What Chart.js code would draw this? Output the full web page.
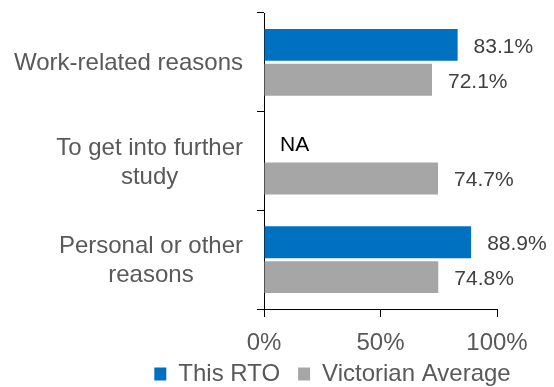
<!DOCTYPE html>
<html>
<head>
<meta charset="utf-8">
<script src="https://cdn.jsdelivr.net/npm/chart.js@4"></script>
<style>
  body { margin: 0; background: #fff; }
  #wrap { width: 554px; height: 387px; }
</style>
</head>
<body>
<div id="wrap"><canvas id="reasonsChart" width="554" height="387"></canvas></div>
<script>
// --- data ---
const categories = [
    'Work-related reasons',
    ['To get into further', 'study'],
    ['Personal or other', 'reasons']
];
const thisRto = [83.1, null, 88.9];
const victorianAvg = [72.1, 74.7, 74.8];
const xTicks = [0, 50, 100];

const FONT = '"Liberation Sans", Arial, sans-serif';
Chart.defaults.font.family = FONT;
Chart.defaults.color = '#595959';

// value labels at the end of each bar, "NA" where there is no value
const barLabels = {
    id: 'barLabels',
    afterDatasetsDraw(chart) {
        const ctx = chart.ctx;
        const xScale = chart.scales.x;
        ctx.save();
        ctx.font = '21px ' + FONT;
        ctx.textAlign = 'left';
        ctx.textBaseline = 'middle';
        chart.data.datasets.forEach((ds, di) => {
            const meta = chart.getDatasetMeta(di);
            meta.data.forEach((bar, i) => {
                const v = ds.data[i];
                const x = xScale.getPixelForValue(v == null ? 0 : v) + 16;
                if (v == null) {
                    ctx.fillStyle = '#000';
                    ctx.fillText('NA', x, bar.y + 1.5);
                } else {
                    ctx.fillStyle = '#404040';
                    ctx.fillText(v.toFixed(1) + '%', x, bar.y + 2);
                }
            });
        });
        ctx.restore();
    }
};

// category labels: each block right-aligned to the axis, its lines centred
const categoryLabels = {
    id: 'categoryLabels',
    afterDraw(chart) {
        const ctx = chart.ctx;
        const yScale = chart.scales.y;
        const right = yScale.right - 7 - 14;
        const lineH = 29;
        ctx.save();
        ctx.font = '24px ' + FONT;
        ctx.fillStyle = '#595959';
        ctx.textAlign = 'center';
        ctx.textBaseline = 'middle';
        chart.data.labels.forEach((lab, i) => {
            const lines = [].concat(lab);
            const w = Math.max(...lines.map(l => ctx.measureText(l).width));
            const cx = right - w / 2;
            const y0 = yScale.getPixelForTick(i) - (lines.length - 1) * lineH / 2 + 1.5;
            lines.forEach((l, k) => ctx.fillText(l, cx, y0 + k * lineH));
        });
        ctx.restore();
    }
};

// legend: right of the canvas centre, its box grown upward under the x labels
const legendShift = {
    id: 'legendShift',
    afterLayout(chart) {
        const lg = chart.legend;
        lg.left += 84;
        lg.right += 84;
        lg.top -= 17;
        lg.height = lg.bottom - lg.top;
    }
};

new Chart(document.getElementById('reasonsChart'), {
    type: 'bar',
    data: {
        labels: categories,
        datasets: [{
            label: 'This RTO',
            data: thisRto,
            backgroundColor: '#0070C0',
            categoryPercentage: 0.707,
            barPercentage: 0.914
        }, {
            label: 'Victorian Average',
            data: victorianAvg,
            backgroundColor: '#A6A6A6',
            categoryPercentage: 0.707,
            barPercentage: 0.914
        }]
    },
    options: {
        indexAxis: 'y',
        responsive: false,
        animation: false,
        layout: { padding: { top: 13, right: 57, left: 0, bottom: 0 } },
        scales: {
            x: {
                min: 0,
                max: 100,
                afterBuildTicks(scale) {
                    scale.ticks = xTicks.map(v => ({ value: v }));
                },
                afterFit(scale) { scale.height = 52; },
                grid: { drawOnChartArea: false, tickLength: 8, color: '#000' },
                border: { color: '#000' },
                ticks: { padding: 12, font: { size: 24 }, callback: v => v + '%' }
            },
            y: {
                afterFit(scale) {
                    scale.width = 264;
                    scale.paddingTop = 0;
                    scale.paddingBottom = 0;
                },
                grid: { drawOnChartArea: false, tickLength: 7, color: '#000', offset: true },
                border: { color: '#000' },
                ticks: { display: false }
            }
        },
        plugins: {
            legend: {
                position: 'bottom',
                maxHeight: 26,
                labels: {
                    boxWidth: 12,
                    boxHeight: 13,
                    padding: 18,
                    color: '#595959',
                    font: { size: 24 }
                }
            },
            tooltip: { enabled: false }
        }
    },
    plugins: [barLabels, categoryLabels, legendShift]
});
</script>
</body>
</html>
